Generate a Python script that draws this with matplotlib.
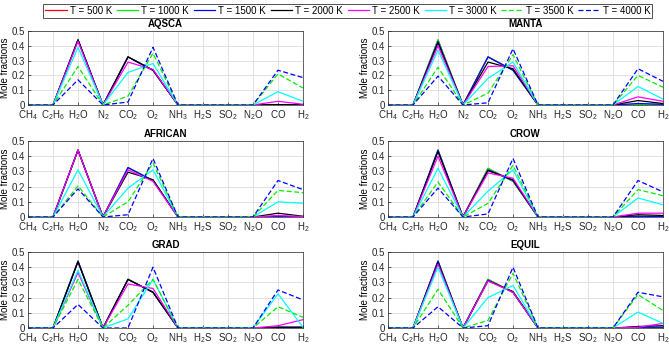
import numpy as np
import matplotlib
matplotlib.use('Agg')
import matplotlib.pyplot as plt
from matplotlib.lines import Line2D

plt.rcParams['font.family'] = ['Liberation Sans', 'DejaVu Sans']
plt.rcParams['mathtext.default'] = 'regular'

species = [r'CH$_4$', r'C$_2$H$_6$', r'H$_2$O', r'N$_2$', r'CO$_2$', r'O$_2$',
           r'NH$_3$', r'H$_2$S', r'SO$_2$', r'N$_2$O', r'$\mathregular{CO}$', r'H$_2$']
temps = ['T = 500 K', 'T = 1000 K', 'T = 1500 K', 'T = 2000 K',
         'T = 2500 K', 'T = 3000 K', 'T = 3500 K', 'T = 4000 K']
colors = ['#ff0000', '#00ee00', '#0000ff', '#000000',
          '#ff00ff', '#00ffff', '#00ee00', '#0000ff']
styles = ['-', '-', '-', '-', '-', '-', '--', '--']

# values at H2O, CO2, O2, CO, H2 (all other species are zero)
AQSCA = [
    [0.44, 0.325, 0.235, 0.0, 0.0],
    [0.44, 0.325, 0.235, 0.0, 0.0],
    [0.44, 0.325, 0.235, 0.0, 0.0],
    [0.44, 0.325, 0.235, 0.003, 0.0],
    [0.43, 0.29, 0.24, 0.025, 0.005],
    [0.39, 0.22, 0.28, 0.09, 0.025],
    [0.26, 0.06, 0.35, 0.21, 0.115],
    [0.17, 0.02, 0.39, 0.235, 0.185],
]
MANTA = [
    [0.44, 0.325, 0.235, 0.003, 0.0],
    [0.44, 0.325, 0.235, 0.005, 0.0],
    [0.43, 0.325, 0.235, 0.01, 0.005],
    [0.42, 0.29, 0.245, 0.03, 0.01],
    [0.40, 0.26, 0.265, 0.055, 0.025],
    [0.37, 0.18, 0.29, 0.125, 0.04],
    [0.255, 0.08, 0.34, 0.20, 0.12],
    [0.195, 0.015, 0.38, 0.245, 0.16],
]
AFRICAN = [
    [0.44, 0.325, 0.24, 0.0, 0.0],
    [0.44, 0.325, 0.24, 0.0, 0.0],
    [0.44, 0.325, 0.24, 0.005, 0.0],
    [0.44, 0.295, 0.245, 0.025, 0.005],
    [0.44, 0.31, 0.235, 0.01, 0.003],
    [0.31, 0.19, 0.31, 0.10, 0.09],
    [0.205, 0.10, 0.355, 0.175, 0.16],
    [0.185, 0.015, 0.385, 0.24, 0.18],
]
CROW = [
    [0.44, 0.32, 0.235, 0.0, 0.0],
    [0.44, 0.32, 0.235, 0.003, 0.0],
    [0.44, 0.31, 0.24, 0.005, 0.003],
    [0.43, 0.305, 0.245, 0.015, 0.01],
    [0.40, 0.29, 0.255, 0.025, 0.025],
    [0.32, 0.17, 0.31, 0.125, 0.08],
    [0.23, 0.09, 0.34, 0.18, 0.14],
    [0.19, 0.02, 0.385, 0.24, 0.165],
]
GRAD = [
    [0.44, 0.32, 0.235, 0.0, 0.0],
    [0.44, 0.32, 0.235, 0.003, 0.003],
    [0.44, 0.32, 0.235, 0.005, 0.005],
    [0.435, 0.32, 0.235, 0.005, 0.005],
    [0.365, 0.29, 0.26, 0.015, 0.055],
    [0.38, 0.06, 0.32, 0.225, 0.005],
    [0.32, 0.15, 0.32, 0.14, 0.07],
    [0.155, 0.0, 0.40, 0.25, 0.185],
]
EQUIL = [
    [0.44, 0.32, 0.235, 0.0, 0.0],
    [0.44, 0.32, 0.235, 0.003, 0.0],
    [0.44, 0.315, 0.235, 0.005, 0.005],
    [0.43, 0.31, 0.24, 0.01, 0.015],
    [0.42, 0.31, 0.235, 0.005, 0.03],
    [0.40, 0.20, 0.28, 0.105, 0.03],
    [0.255, 0.05, 0.36, 0.22, 0.115],
    [0.14, 0.015, 0.40, 0.235, 0.205],
]

panels = [('AQSCA', AQSCA), ('MANTA', MANTA), ('AFRICAN', AFRICAN),
          ('CROW', CROW), ('GRAD', GRAD), ('EQUIL', EQUIL)]
nonzero_idx = [2, 4, 5, 10, 11]

fig = plt.figure(figsize=(6.69, 3.45), dpi=100)

lefts = [28 / 669, 388 / 669]
w = 275 / 669
rows = [(31, 105), (141, 217), (252, 328)]
fs = 7

x = np.arange(1, 13)
for k, (name, data) in enumerate(panels):
    r, c = k // 2, k % 2
    top, bot = rows[r]
    ax = fig.add_axes([lefts[c], 1 - bot / 345, w, (bot - top) / 345])
    for i in range(8):
        y = np.zeros(12)
        y[nonzero_idx] = data[i]
        ax.plot(x, y, color=colors[i], linestyle=styles[i], linewidth=0.9,
                dashes=(4, 2) if styles[i] == '--' else (None, None))
    ax.set_xlim(1, 12)
    ax.set_ylim(0, 0.5)
    ax.set_xticks(x)
    ax.set_xticklabels(species, fontsize=fs, color='#262626')
    ax.set_yticks([0, 0.1, 0.2, 0.3, 0.4, 0.5])
    ax.set_yticklabels(['0', '0.1', '0.2', '0.3', '0.4', '0.5'], fontsize=fs, color='#262626')
    ax.tick_params(direction='in', length=2, width=0.5, pad=2, colors='#262626')
    ax.grid(True, color='#dcdcdc', linewidth=0.6)
    ax.set_axisbelow(True)
    for s in ax.spines.values():
        s.set_color('#262626')
        s.set_linewidth(0.5)
    ax.set_ylabel('Mole fractions', fontsize=fs, labelpad=1)
    ax.set_title(name, fontsize=fs, fontweight='bold', pad=3)

handles = [Line2D([0], [0], color=colors[i], linestyle=styles[i], linewidth=0.9,
                  dashes=(4, 2) if styles[i] == '--' else (None, None))
           for i in range(8)]
leg = fig.legend(handles, temps, loc='upper center', bbox_to_anchor=(0.52, 1.003),
                 ncol=8, fontsize=fs, frameon=True, fancybox=False,
                 handlelength=2.2, handletextpad=0.3, columnspacing=0.5,
                 borderpad=0.2)
leg.get_frame().set_edgecolor('black')
leg.get_frame().set_linewidth(0.6)

fig.savefig('out.png', dpi=100)
